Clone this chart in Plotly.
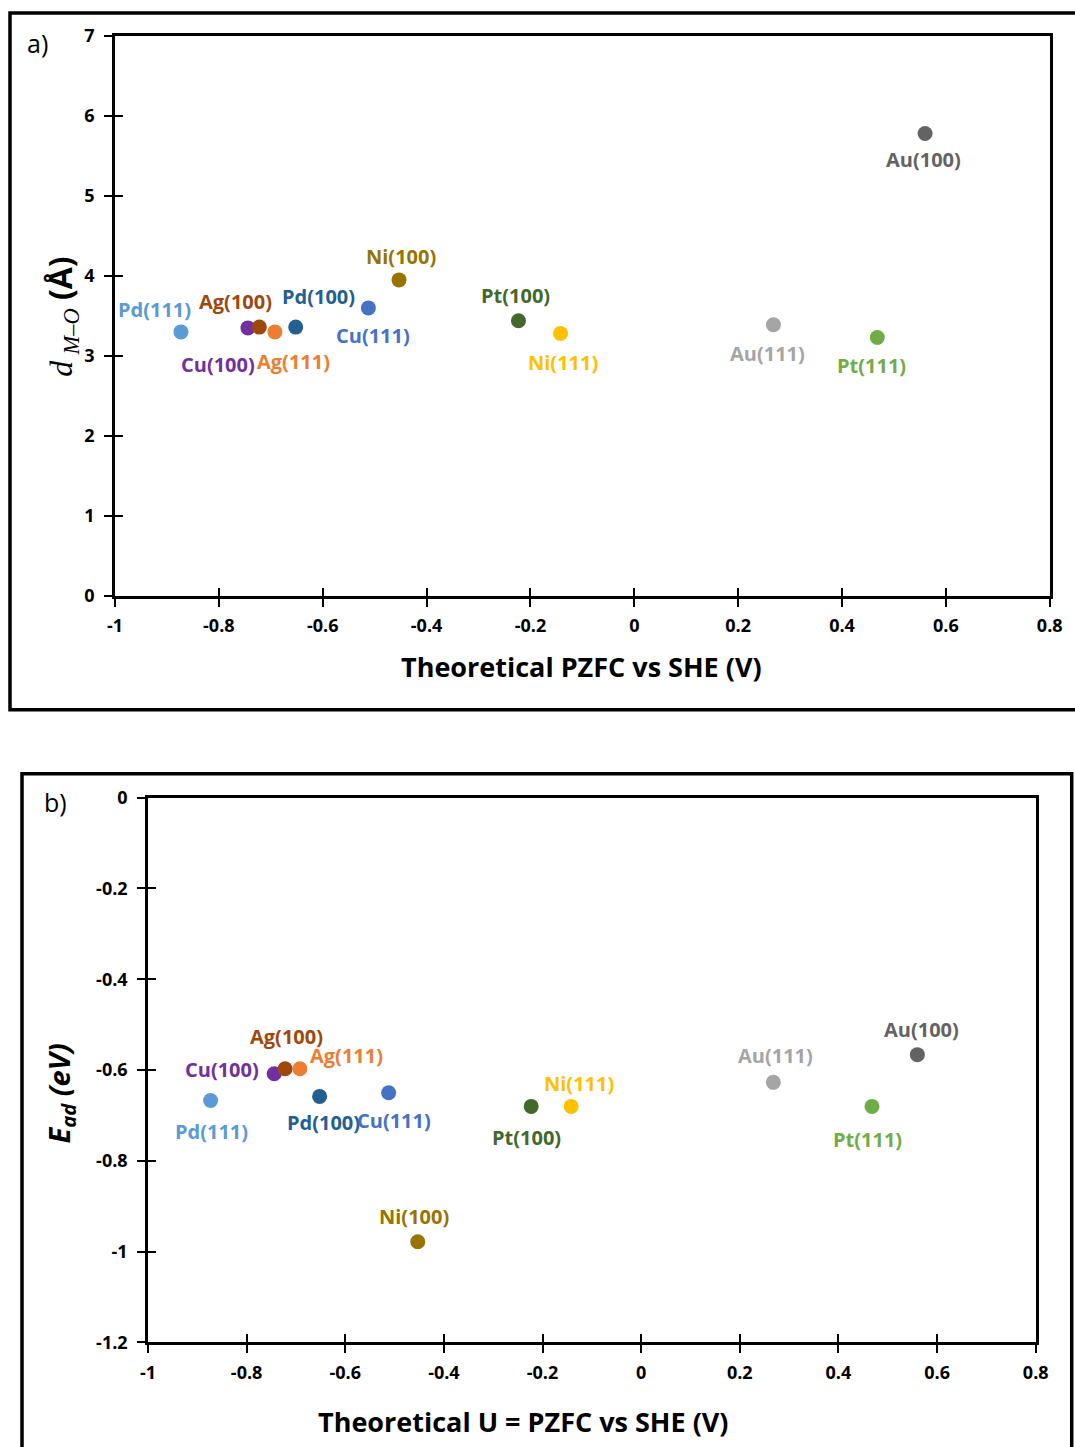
import plotly.graph_objects as go

# ---- data ----
surfaces = ["Pd(111)", "Cu(100)", "Ag(100)", "Ag(111)", "Pd(100)", "Cu(111)",
            "Ni(100)", "Pt(100)", "Ni(111)", "Au(111)", "Pt(111)", "Au(100)"]
pzfc = [-0.873, -0.744, -0.722, -0.692, -0.652, -0.512,
        -0.453, -0.223, -0.142, 0.268, 0.468, 0.560]
d_mo = [3.30, 3.35, 3.36, 3.30, 3.36, 3.60,
        3.95, 3.44, 3.28, 3.39, 3.23, 5.78]
e_ad = [-0.667, -0.608, -0.597, -0.597, -0.658, -0.650,
        -0.978, -0.680, -0.680, -0.627, -0.680, -0.566]

x_ticks = [-1, -0.8, -0.6, -0.4, -0.2, 0, 0.2, 0.4, 0.6, 0.8]
x_ticktext = ["-1", "-0.8", "-0.6", "-0.4", "-0.2", "0", "0.2", "0.4", "0.6", "0.8"]
ya_ticks = [0, 1, 2, 3, 4, 5, 6, 7]
ya_ticktext = ["0", "1", "2", "3", "4", "5", "6", "7"]
yb_ticks = [0, -0.2, -0.4, -0.6, -0.8, -1, -1.2]
yb_ticktext = ["0", "-0.2", "-0.4", "-0.6", "-0.8", "-1", "-1.2"]

# ---- styling ----
colors = ["#5B9BD5", "#7030A0", "#9E480E", "#ED7D31", "#255E91", "#4472C4",
          "#997300", "#43682B", "#FFC000", "#A5A5A5", "#70AD47", "#636363"]
# label offsets (px, right/down) relative to each point, panel a and panel b
offs_a = [(-26, -22), (-30, 37), (-24, -26), (19, 30), (23, -31), (5, 28),
          (2, -23), (-3, -25), (2, 29), (-6, 29), (-6, 28), (-2, 26)]
offs_b = [(1, 31), (-52, -4), (1, -32), (47, -13), (4, 26), (5, 28),
          (-4, -25), (-5, 31), (8, -23), (2, -27), (-4, 33), (4, -25)]

# page layout: page offset and the screen-to-figure scale
OFFX, OFFY = 8, 12
SX, SY = 0.981, 0.984
W, H = 1090, 1465
FONT = "Open Sans"


def px(x):
    return (x - OFFX) / SX / W


def py(y):
    return 1 - (y - OFFY) / SY / H


fig = go.Figure()

for i, name in enumerate(surfaces):
    fig.add_trace(go.Scatter(x=[pzfc[i]], y=[d_mo[i]], mode="markers", name=name,
                             marker=dict(size=15, color=colors[i]),
                             xaxis="x", yaxis="y", showlegend=False))
    fig.add_trace(go.Scatter(x=[pzfc[i]], y=[e_ad[i]], mode="markers", name=name,
                             marker=dict(size=15, color=colors[i]),
                             xaxis="x2", yaxis="y2", showlegend=False))

# empty traces to anchor the inside-tick overlay axes
fig.add_trace(go.Scatter(x=[], y=[], xaxis="x3", yaxis="y3", showlegend=False))
fig.add_trace(go.Scatter(x=[], y=[], xaxis="x4", yaxis="y4", showlegend=False))

tickfont = dict(family=FONT, size=18, color="black", weight="bold")
common = dict(showgrid=False, zeroline=False, showline=True, linecolor="black",
              linewidth=2.5, mirror=True, ticks="outside", ticklen=8,
              tickwidth=2, tickcolor="black", tickfont=tickfont)
inner = dict(ticks="inside", ticklen=8, tickwidth=2, tickcolor="black",
             showticklabels=False, showgrid=False, zeroline=False, showline=False)

dom_ax = [px(115), px(1050)]
dom_ay = [py(595), py(35)]
dom_bx = [px(148), px(1036)]
dom_by = [py(1342), py(797)]

fig.update_layout(
    width=W, height=H, margin=dict(l=0, r=0, t=0, b=0),
    plot_bgcolor="white", paper_bgcolor="white",
    xaxis=dict(domain=dom_ax, anchor="y", range=[-1, 0.8], tickvals=x_ticks,
               ticktext=x_ticktext, ticklabelstandoff=4, **common),
    yaxis=dict(domain=dom_ay, anchor="x", range=[0, 7], tickvals=ya_ticks,
               ticktext=ya_ticktext, ticklabelstandoff=6, **common),
    xaxis2=dict(domain=dom_bx, anchor="y2", range=[-1, 0.8], tickvals=x_ticks,
                ticktext=x_ticktext, ticklabelstandoff=4, **common),
    yaxis2=dict(domain=dom_by, anchor="x2", range=[-1.2, 0], tickvals=yb_ticks,
                ticktext=yb_ticktext, ticklabelstandoff=6, **common),
    xaxis3=dict(domain=dom_ax, anchor="y3", overlaying="x", range=[-1, 0.8],
                tickvals=x_ticks, **inner),
    yaxis3=dict(domain=dom_ay, anchor="x3", overlaying="y", range=[0, 7],
                tickvals=ya_ticks, **inner),
    xaxis4=dict(domain=dom_bx, anchor="y4", overlaying="x2", range=[-1, 0.8],
                tickvals=x_ticks, **inner),
    yaxis4=dict(domain=dom_by, anchor="x4", overlaying="y2", range=[-1.2, 0],
                tickvals=yb_ticks, **inner),
)

# outer frames of the two panels
fig.add_shape(type="rect", xref="paper", yref="paper",
              x0=px(10), x1=px(1110), y0=py(709), y1=py(12),
              line=dict(color="black", width=3.5), fillcolor="rgba(0,0,0,0)")
fig.add_shape(type="rect", xref="paper", yref="paper",
              x0=px(22), x1=px(1072), y0=py(1490), y1=py(773),
              line=dict(color="black", width=3.5), fillcolor="rgba(0,0,0,0)")

ann = []
# point labels
for i, name in enumerate(surfaces):
    dx, dy = offs_a[i]
    ann.append(dict(x=pzfc[i], y=d_mo[i], xref="x", yref="y", text=name,
                    showarrow=False, xshift=dx, yshift=-dy,
                    xanchor="center", yanchor="middle",
                    font=dict(family=FONT, size=20, color=colors[i], weight="bold")))
    dx, dy = offs_b[i]
    ann.append(dict(x=pzfc[i], y=e_ad[i], xref="x2", yref="y2", text=name,
                    showarrow=False, xshift=dx, yshift=-dy,
                    xanchor="center", yanchor="middle",
                    font=dict(family=FONT, size=20, color=colors[i], weight="bold")))


def paper_text(x, y, text, font, angle=0):
    return dict(x=px(x), y=py(y), xref="paper", yref="paper", showarrow=False,
                xanchor="center", yanchor="middle", textangle=angle,
                text=text, font=font)


ann += [
    paper_text(582, 666, "<b>Theoretical PZFC vs SHE (V)</b>",
               dict(family=FONT, size=27, color="black")),
    paper_text(61, 315,
               "<i>d</i>\u2009<sub><i>M–O</i></sub>"
               "<span style='font-family:Open Sans'><b> (Å)</b></span>",
               dict(family="Liberation Serif", size=32, color="black"), -90),
    paper_text(523, 1421, "<b>Theoretical U = PZFC vs SHE (V)</b>",
               dict(family=FONT, size=27, color="black")),
    paper_text(61, 1093, "<b><i>E<sub>ad</sub> (eV)</i></b>",
               dict(family=FONT, size=29, color="black"), -90),
    paper_text(38, 42, "a)", dict(family=FONT, size=25, color="black")),
    paper_text(56, 801, "b)", dict(family=FONT, size=25, color="black")),
]
fig.update_layout(annotations=ann)

fig.write_html("out.html")
